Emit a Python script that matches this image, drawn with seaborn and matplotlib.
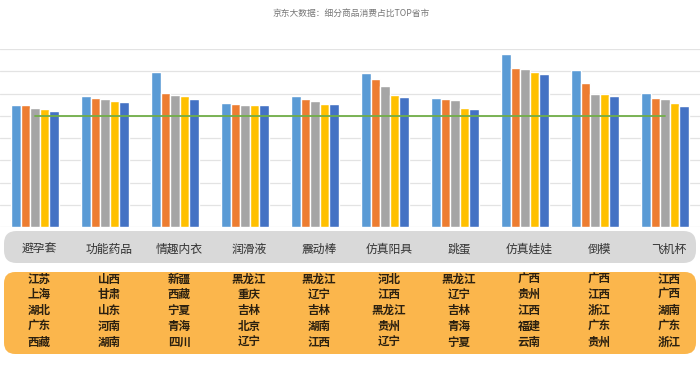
import numpy as np
import pandas as pd
import matplotlib.pyplot as plt
import seaborn as sns
from matplotlib.patches import FancyBboxPatch
from matplotlib.transforms import blended_transform_factory

# chart data
title = '京东大数据：细分商品消费占比TOP省市'
categories = ['避孕套', '功能药品', '情趣内衣', '润滑液', '震动棒',
              '仿真阳具', '跳蛋', '仿真娃娃', '倒模', '飞机杯']
series = ['TOP1', 'TOP2', 'TOP3', 'TOP4', 'TOP5']
top1 = [5.49, 5.90, 6.97, 5.59, 5.90, 6.91, 5.80, 7.77, 7.04, 6.02]
top2 = [5.49, 5.81, 6.04, 5.55, 5.75, 6.64, 5.77, 7.14, 6.46, 5.80]
top3 = [5.34, 5.75, 5.95, 5.49, 5.68, 6.35, 5.71, 7.09, 5.96, 5.75]
top4 = [5.29, 5.68, 5.90, 5.49, 5.55, 5.95, 5.35, 6.95, 5.96, 5.58]
top5 = [5.23, 5.61, 5.75, 5.49, 5.53, 5.86, 5.31, 6.88, 5.87, 5.46]
average = [5.0] * 10
provinces = [
    ['江苏', '上海', '湖北', '广东', '西藏'],
    ['山西', '甘肃', '山东', '河南', '湖南'],
    ['新疆', '西藏', '宁夏', '青海', '四川'],
    ['黑龙江', '重庆', '吉林', '北京', '辽宁'],
    ['黑龙江', '辽宁', '吉林', '湖南', '江西'],
    ['河北', '江西', '黑龙江', '贵州', '辽宁'],
    ['黑龙江', '辽宁', '吉林', '青海', '宁夏'],
    ['广西', '贵州', '江西', '福建', '云南'],
    ['广西', '江西', '浙江', '广东', '贵州'],
    ['江西', '广西', '湖南', '广东', '浙江'],
]

colors = ['#5B9BD5', '#ED7D31', '#A5A5A5', '#FFC000', '#4472C4']

df = pd.DataFrame({
    'cat': np.repeat(categories, 5),
    'series': series * len(categories),
    'value': np.array([top1, top2, top3, top4, top5]).T.ravel(),
})

sns.set_style('white')
plt.rcParams['font.family'] = ['Noto Sans CJK SC', 'DejaVu Sans']

fig = plt.figure(figsize=(7, 3.74), dpi=100)
H = 374.0
ax = fig.add_axes([0.0, 1 - 227 / H, 1.0, 178 / H])

sns.barplot(data=df, x='cat', y='value', hue='series', palette=colors,
            width=0.69, saturation=1, legend=False, ax=ax, zorder=3)
sns.lineplot(x=np.arange(len(categories)), y=average, color='#70AD47',
             linewidth=1.3, ax=ax, zorder=4)

ax.set_xlim(-0.5, len(categories) - 0.5)
ax.set_ylim(0, 8)
ax.set_yticks(range(0, 9))
ax.yaxis.grid(True, color='#E3E3E3', linewidth=0.9, zorder=0)
ax.set_axisbelow(True)
ax.tick_params(left=False, bottom=False, labelleft=False, labelbottom=False)
ax.set_xlabel('')
ax.set_ylabel('')
sns.despine(ax=ax, left=True, bottom=True)

fig.text(0.502, 1 - 13 / H, title, ha='center', va='center',
         fontsize=6.3, color='#777777')

# gray label band and orange province band
gray_box = FancyBboxPatch((4 / 700, 1 - 263 / H), 692 / 700, 32 / H,
                          boxstyle='round,pad=0,rounding_size=0.018',
                          transform=fig.transFigure, facecolor='#D9D9D9',
                          edgecolor='none', mutation_aspect=700 / H)
orange_box = FancyBboxPatch((4 / 700, 1 - 354 / H), 692 / 700, 82 / H,
                            boxstyle='round,pad=0,rounding_size=0.016',
                            transform=fig.transFigure, facecolor='#FBB64C',
                            edgecolor='none', mutation_aspect=700 / H)
fig.patches.extend([gray_box, orange_box])

tr = blended_transform_factory(ax.transData, fig.transFigure)
for i, name in enumerate(categories):
    fig.text(i + 0.06, 1 - 249 / H, name, transform=tr, ha='center',
             va='center', fontsize=8.5, color='#333333')
    for j, prov in enumerate(provinces[i]):
        fig.text(i + 0.06, 1 - (279 + j * 15.8) / H, prov, transform=tr,
                 ha='center', va='center', fontsize=8.3, color='#2B2010',
                 fontweight='semibold')

fig.savefig('out.png', dpi=100)
